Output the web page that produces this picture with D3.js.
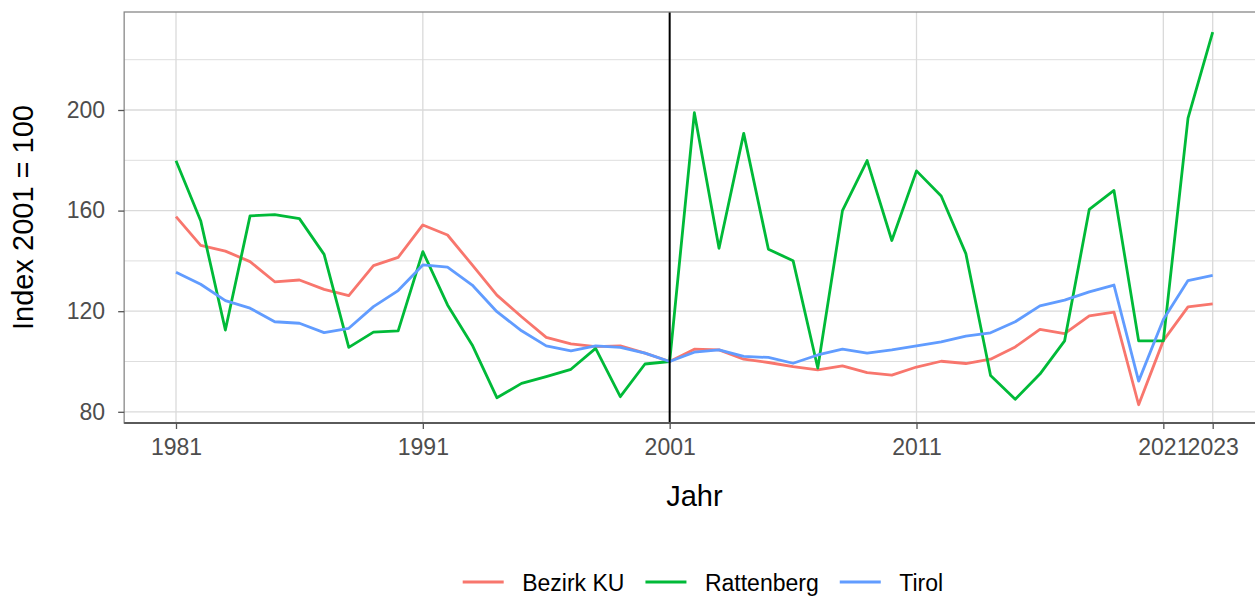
<!DOCTYPE html>
<html>
<head>
<meta charset="utf-8">
<script src="https://cdn.jsdelivr.net/npm/d3@7"></script>
<style>
  html, body { margin: 0; padding: 0; background: #ffffff; }
  svg { display: block; }
  text { font-family: "Liberation Sans", Arial, sans-serif; }
</style>
</head>
<body>
<svg id="chart" width="1255" height="597"></svg>
<script>
const years = [1981,1982,1983,1984,1985,1986,1987,1988,1989,1990,
  1991,1992,1993,1994,1995,1996,1997,1998,1999,2000,
  2001,2002,2003,2004,2005,2006,2007,2008,2009,2010,
  2011,2012,2013,2014,2015,2016,2017,2018,2019,2020,
  2021,2022,2023];
const bezirkKU = [157.6,146.2,143.9,139.7,131.7,132.4,128.7,126.2,138.1,141.4,
  154.3,150.3,138.4,126.4,117.8,109.6,107.0,105.9,106.2,103.3,
  100,104.9,104.6,100.9,99.6,98.0,96.7,98.3,95.6,94.6,
  97.8,100.1,99.2,100.9,105.8,112.8,111.1,118.1,119.6,82.8,
  108.3,121.7,122.9];
const rattenberg = [179.8,156.0,112.5,157.9,158.4,156.8,142.6,105.6,111.7,112.2,
  143.7,122.5,106.6,85.6,91.3,94.0,96.9,105.2,86.0,99.0,
  100,198.9,145.0,190.7,144.6,140.1,97.4,160.0,179.9,148.1,
  175.8,165.8,142.9,94.4,85.0,95.0,108.2,160.5,168.0,108.2,
  108.2,196.8,231.0];
const tirol = [135.5,130.7,124.2,121.2,115.8,115.2,111.5,113.2,121.8,128.2,
  138.4,137.5,130.4,119.8,112.2,106.2,104.2,106.2,105.6,103.3,
  100,103.7,104.6,102.0,101.6,99.3,102.6,104.9,103.3,104.6,
  106.2,107.8,110.1,111.4,115.8,122.1,124.4,127.7,130.4,92.2,
  116.7,132.2,134.2];
const seriesNames = ["Bezirk KU", "Rattenberg", "Tirol"];
const seriesColors = ["#F8766D", "#00BA38", "#619CFF"];
const xTicks = [1981, 1991, 2001, 2011, 2021, 2023];
const yMajor = [80, 120, 160, 200];
const yMinor = [100, 140, 180, 220];
const refYear = 2001;
const xTitle = "Jahr";
const yTitle = "Index 2001 = 100";

const svg = d3.select("#chart");

// Panel geometry (ggplot-like with 5% expansion)
const x = d3.scaleLinear().domain([1981, 2023]).range([176, 1212.7]);
const y = d3.scaleLinear().domain([80, 200]).range([411.8, 110]);
const xExp = (2023 - 1981) * 0.05;
const panelL = x(1981 - xExp), panelR = x(2023 + xExp);
const panelT = 12, panelB = 423;

// grid
const g = svg.append("g");
g.selectAll("line.ymin").data(yMinor).join("line")
  .attr("x1", panelL).attr("x2", panelR)
  .attr("y1", d => y(d)).attr("y2", d => y(d))
  .attr("stroke", "#dedede").attr("stroke-width", 1);
g.selectAll("line.ymaj").data(yMajor).join("line")
  .attr("x1", panelL).attr("x2", panelR)
  .attr("y1", d => y(d)).attr("y2", d => y(d))
  .attr("stroke", "#dadada").attr("stroke-width", 1.3);
g.selectAll("line.xmaj").data(xTicks).join("line")
  .attr("x1", d => x(d)).attr("x2", d => x(d))
  .attr("y1", panelT).attr("y2", panelB)
  .attr("stroke", "#dadada").attr("stroke-width", 1.3);

// lines
const allSeries = [bezirkKU, rattenberg, tirol];
const line = d3.line().x((d, i) => x(years[i])).y(d => y(d));
allSeries.forEach((vals, k) => {
  svg.append("path").datum(vals)
    .attr("d", line)
    .attr("fill", "none")
    .attr("stroke", seriesColors[k])
    .attr("stroke-width", 2.8)
    .attr("stroke-linejoin", "round")
    .attr("stroke-linecap", "butt");
});

// reference vertical line
svg.append("line")
  .attr("x1", x(refYear)).attr("x2", x(refYear))
  .attr("y1", panelT).attr("y2", panelB)
  .attr("stroke", "#000").attr("stroke-width", 2);

// panel border
svg.append("rect")
  .attr("x", panelL).attr("y", panelT)
  .attr("width", panelR - panelL).attr("height", panelB - panelT)
  .attr("fill", "none").attr("stroke", "#888888").attr("stroke-width", 1.3);
svg.append("line")
  .attr("x1", panelL).attr("x2", panelR)
  .attr("y1", panelB).attr("y2", panelB)
  .attr("stroke", "#5a5a5a").attr("stroke-width", 2.2);

// axes
const xAxis = d3.axisBottom(x).tickValues(xTicks).tickFormat(d3.format("d"))
  .tickSizeInner(6).tickSizeOuter(0).tickPadding(10);
const xa = svg.append("g").attr("transform", `translate(0,${panelB})`).call(xAxis);
xa.select(".domain").remove();
xa.selectAll(".tick line").attr("stroke", "#555").attr("stroke-width", 1.3);
xa.selectAll(".tick text").attr("fill", "#4d4d4d").style("font-size", "23px")
  .style("font-family", '"Liberation Sans", Arial, sans-serif');

const yAxis = d3.axisLeft(y).tickValues(yMajor).tickFormat(d3.format("d"))
  .tickSizeInner(6).tickSizeOuter(0).tickPadding(13);
const ya = svg.append("g").attr("transform", `translate(${panelL},0)`).call(yAxis);
ya.select(".domain").remove();
ya.selectAll(".tick line").attr("stroke", "#555").attr("stroke-width", 1.3);
ya.selectAll(".tick text").attr("fill", "#4d4d4d").style("font-size", "23px")
  .style("font-family", '"Liberation Sans", Arial, sans-serif');

// titles
svg.append("text").text(xTitle)
  .attr("x", (panelL + panelR) / 2).attr("y", 506)
  .attr("text-anchor", "middle").attr("fill", "#000")
  .style("font-size", "29px");
svg.append("text").text(yTitle)
  .attr("transform", `translate(33,${(panelT + panelB) / 2}) rotate(-90)`)
  .attr("text-anchor", "middle").attr("fill", "#000")
  .style("font-size", "29px");

// legend
const leg = svg.append("g");
let lx = 462.7;
const ly = 582;
seriesNames.forEach((name, k) => {
  leg.append("line")
    .attr("x1", lx).attr("x2", lx + 41)
    .attr("y1", ly).attr("y2", ly)
    .attr("stroke", seriesColors[k]).attr("stroke-width", 2.8);
  const t = leg.append("text").text(name)
    .attr("x", lx + 59.5).attr("y", 591)
    .attr("fill", "#000").style("font-size", "23px");
  lx = lx + 59.5 + t.node().getComputedTextLength() + 21;
});
</script>
</body>
</html>
